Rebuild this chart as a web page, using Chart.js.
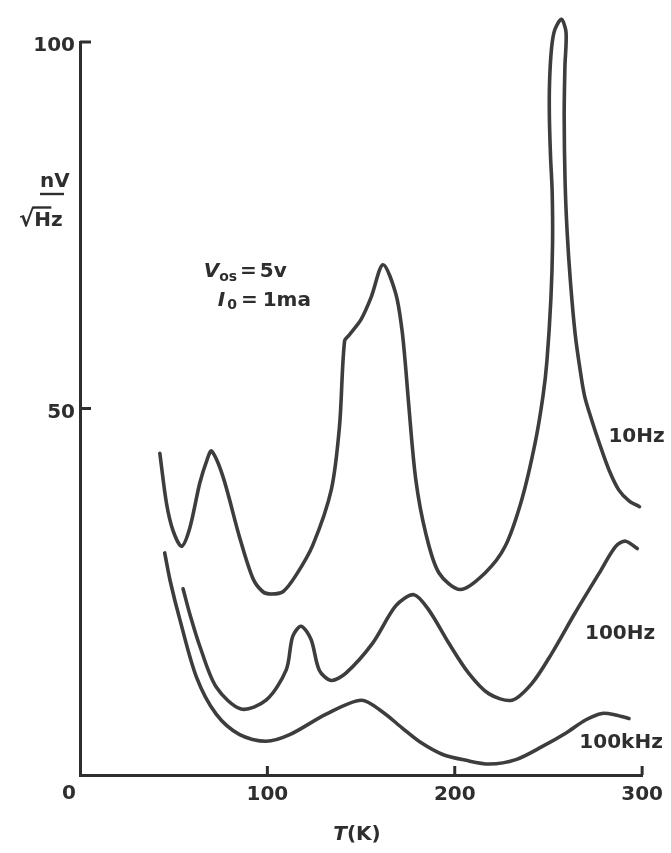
<!DOCTYPE html>
<html>
<head>
<meta charset="utf-8">
<script src="https://cdn.jsdelivr.net/npm/chart.js@4/dist/chart.umd.min.js"></script>
<style>
  html, body { margin: 0; padding: 0; background: #fff; }
  #wrap { width: 671px; height: 853px; }
</style>
</head>
<body>
<div id="wrap"><canvas id="c" width="671" height="853"></canvas></div>
<script>
// ---- data ----
const xTicks = [0, 100, 200, 300];
const yTicks = [50, 100];

const t10Hz = [42.6, 46.2, 49.7, 54.2, 58.6, 63.9, 67.8, 70.2, 76.3, 85.2, 92.3, 97.6, 102.1, 108.3, 115.4, 124.3, 134.1, 138.5, 141.2, 143.9, 150.1, 155.4, 161.7, 168.5, 171.8, 173.9, 175.2, 179.2, 184.5, 191.5, 203.0, 216.3, 226.9, 235.8, 242.9, 247.1, 249.2, 251.3, 252.2, 252.0, 251.1, 250.5, 250.6, 251.6, 253.3, 256.9, 259.4, 258.8, 258.4, 258.9, 260.0, 261.8, 264.2, 266.6, 269.3, 273.0, 277.5, 282.5, 287.5, 293.0, 298.6];
const v10Hz = [43.9, 37.0, 33.3, 31.2, 33.7, 39.8, 43.0, 44.2, 40.7, 32.4, 26.8, 25.0, 24.7, 25.0, 27.3, 31.4, 38.9, 47.6, 59.2, 60.1, 62.2, 65.2, 69.6, 65.7, 60.8, 55.3, 51.2, 40.3, 33.0, 27.6, 25.3, 27.6, 31.2, 37.6, 45.3, 51.7, 56.5, 64.9, 72.5, 79.5, 84.5, 89.9, 94.5, 99.0, 101.6, 103.1, 101.3, 96.7, 89.9, 80.8, 74.0, 67.1, 60.3, 55.8, 51.7, 48.5, 45.0, 41.5, 38.9, 37.4, 36.6];

const t100Hz = [55.0, 58.9, 63.9, 72.7, 86.0, 99.3, 110.0, 113.5, 118.0, 123.3, 127.7, 134.0, 141.9, 156.2, 168.6, 178.2, 186.2, 196.8, 207.4, 218.1, 230.5, 241.2, 251.8, 264.2, 277.0, 285.9, 291.2, 297.4];
const v100Hz = [25.4, 21.7, 17.6, 12.0, 9.0, 10.2, 14.3, 18.9, 20.3, 18.5, 14.3, 12.9, 13.9, 18.0, 23.1, 24.6, 22.5, 18.0, 13.9, 11.1, 10.2, 12.5, 16.6, 22.1, 27.5, 31.2, 31.9, 30.9];

const t100kHz = [45.2, 48.2, 53.2, 62.1, 72.7, 85.2, 99.3, 111.9, 131.4, 150.1, 161.5, 172.0, 181.5, 193.6, 206.0, 218.4, 232.6, 246.8, 259.2, 269.8, 278.6, 285.7, 293.0];
const v100kHz = [30.3, 26.4, 21.3, 13.4, 8.3, 5.5, 4.6, 5.5, 8.3, 10.2, 8.6, 6.4, 4.5, 2.8, 2.0, 1.5, 2.1, 3.9, 5.7, 7.5, 8.4, 8.2, 7.7];

const seriesNames = ['10Hz', '100Hz', '100kHz'];

// ---- styling ----
const INK = '#2e2e2e';
const LINE = '#3d3d3d';
const FONT = '"DejaVu Sans", "Liberation Sans", sans-serif';

function pts(t, v) { return t.map((x, i) => ({ x: x, y: v[i] })); }

function mkSet(label, t, v) {
  return {
    label: label,
    data: pts(t, v),
    showLine: true,
    borderColor: LINE,
    borderWidth: 3.6,
    pointRadius: 0,
    tension: 0.3,
    borderCapStyle: 'round',
    borderJoinStyle: 'round',
    clip: false,
    fill: false
  };
}

const decor = {
  id: 'decor',
  beforeDraw(chart) {
    const c = chart.ctx;
    c.save();
    c.fillStyle = '#fff';
    c.fillRect(0, 0, chart.width, chart.height);
    c.restore();
  },
  afterDraw(chart) {
    const c = chart.ctx;
    const xs = chart.scales.x, ys = chart.scales.y;
    const X = v => xs.getPixelForValue(v);
    const Y = v => ys.getPixelForValue(v);
    c.save();
    c.strokeStyle = INK;
    c.lineWidth = 3;
    c.lineCap = 'butt';
    // inner tick marks
    yTicks.forEach(v => {
      c.beginPath();
      c.moveTo(X(0), Y(v));
      c.lineTo(X(0) + 11, Y(v));
      c.stroke();
    });
    xTicks.slice(1).forEach(v => {
      c.beginPath();
      c.moveTo(X(v), Y(0));
      c.lineTo(X(v), Y(0) - 9);
      c.stroke();
    });

    c.fillStyle = INK;
    c.textBaseline = 'middle';
    c.textAlign = 'left';
    const f = (sz, it) => (it ? 'italic ' : '') + 'bold ' + sz + 'px ' + FONT;

    // origin label "0" (sits left of the axis in the original)
    c.font = f(20);
    c.textAlign = 'center';
    c.fillText(String(xTicks[0]), X(0) - 11, Y(0) + 19);
    c.textAlign = 'left';

    // series labels
    c.fillText(seriesNames[0], X(282), Y(46.2));
    c.fillText(seriesNames[1], X(269.5), Y(19.3));
    c.fillText(seriesNames[2], X(266.5), Y(4.4));

    // conditions
    let x0 = X(66.0), y0 = Y(68.6);
    c.font = f(20, true);
    c.fillText('V', x0, y0);
    let w = c.measureText('V').width;
    c.font = f(14);
    c.fillText('os', x0 + w, y0 + 5);
    w += c.measureText('os').width + 3;
    c.font = f(20);
    c.fillText('=', x0 + w, y0);
    w += c.measureText('=').width + 3;
    c.fillText('5v', x0 + w, y0);

    x0 = X(73.5); y0 = Y(64.7);
    c.font = f(20, true);
    c.fillText('I', x0, y0);
    w = c.measureText('I').width + 2;
    c.font = f(14);
    c.fillText('0', x0 + w, y0 + 5);
    w += c.measureText('0').width + 4;
    c.font = f(20);
    c.fillText('=', x0 + w, y0);
    w += c.measureText('=').width + 5;
    c.fillText('1ma', x0 + w, y0);

    // y unit nV / sqrt(Hz)
    c.font = f(20);
    c.fillText('nV', 40, 182);
    c.lineWidth = 2.4;
    c.beginPath(); c.moveTo(40, 194); c.lineTo(64, 194); c.stroke();
    c.font = f(23);
    c.fillText('\u221A', 19, 220);
    const sw = c.measureText('\u221A').width;
    c.font = f(20);
    c.fillText('Hz', 19 + sw, 221);
    c.beginPath(); c.moveTo(19 + sw - 2, 207.5); c.lineTo(19 + sw + 17, 207.5); c.stroke();

    // x title T(K)
    c.font = f(20, true);
    const tw = c.measureText('T').width;
    c.font = f(20);
    const kw = c.measureText('(K)').width;
    const tx = 357 - (tw + kw) / 2;
    c.font = f(20, true);
    c.fillText('T', tx, 835);
    c.font = f(20);
    c.fillText('(K)', tx + tw, 835);
    c.restore();
  }
};

new Chart(document.getElementById('c'), {
  type: 'scatter',
  data: {
    datasets: [
      mkSet(seriesNames[0], t10Hz, v10Hz),
      mkSet(seriesNames[1], t100Hz, v100Hz),
      mkSet(seriesNames[2], t100kHz, v100kHz)
    ]
  },
  options: {
    responsive: false,
    animation: false,
    events: [],
    layout: { padding: { top: 42, right: 28, left: 0, bottom: 0 } },
    plugins: { legend: { display: false }, tooltip: { enabled: false } },
    scales: {
      x: {
        type: 'linear', min: 0, max: 300,
        afterBuildTicks: s => { s.ticks = xTicks.map(v => ({ value: v })); },
        afterFit: s => { s.height = 78; },
        grid: { display: false, drawTicks: false },
        border: { display: true, color: INK, width: 3 },
        ticks: { color: INK, font: { family: FONT, size: 20, weight: 'bold' }, padding: 8, maxRotation: 0,
                 callback: v => (v === xTicks[0] ? '' : String(v)) }
      },
      y: {
        type: 'linear', min: 0, max: 100,
        afterBuildTicks: s => { s.ticks = yTicks.map(v => ({ value: v })); },
        afterFit: s => { s.width = 80; },
        grid: { display: false, drawTicks: false },
        border: { display: true, color: INK, width: 3 },
        ticks: { color: INK, font: { family: FONT, size: 20, weight: 'bold' }, padding: 5, labelOffset: 4,
                 callback: v => String(v) }
      }
    }
  },
  plugins: [decor]
});
</script>
</body>
</html>
